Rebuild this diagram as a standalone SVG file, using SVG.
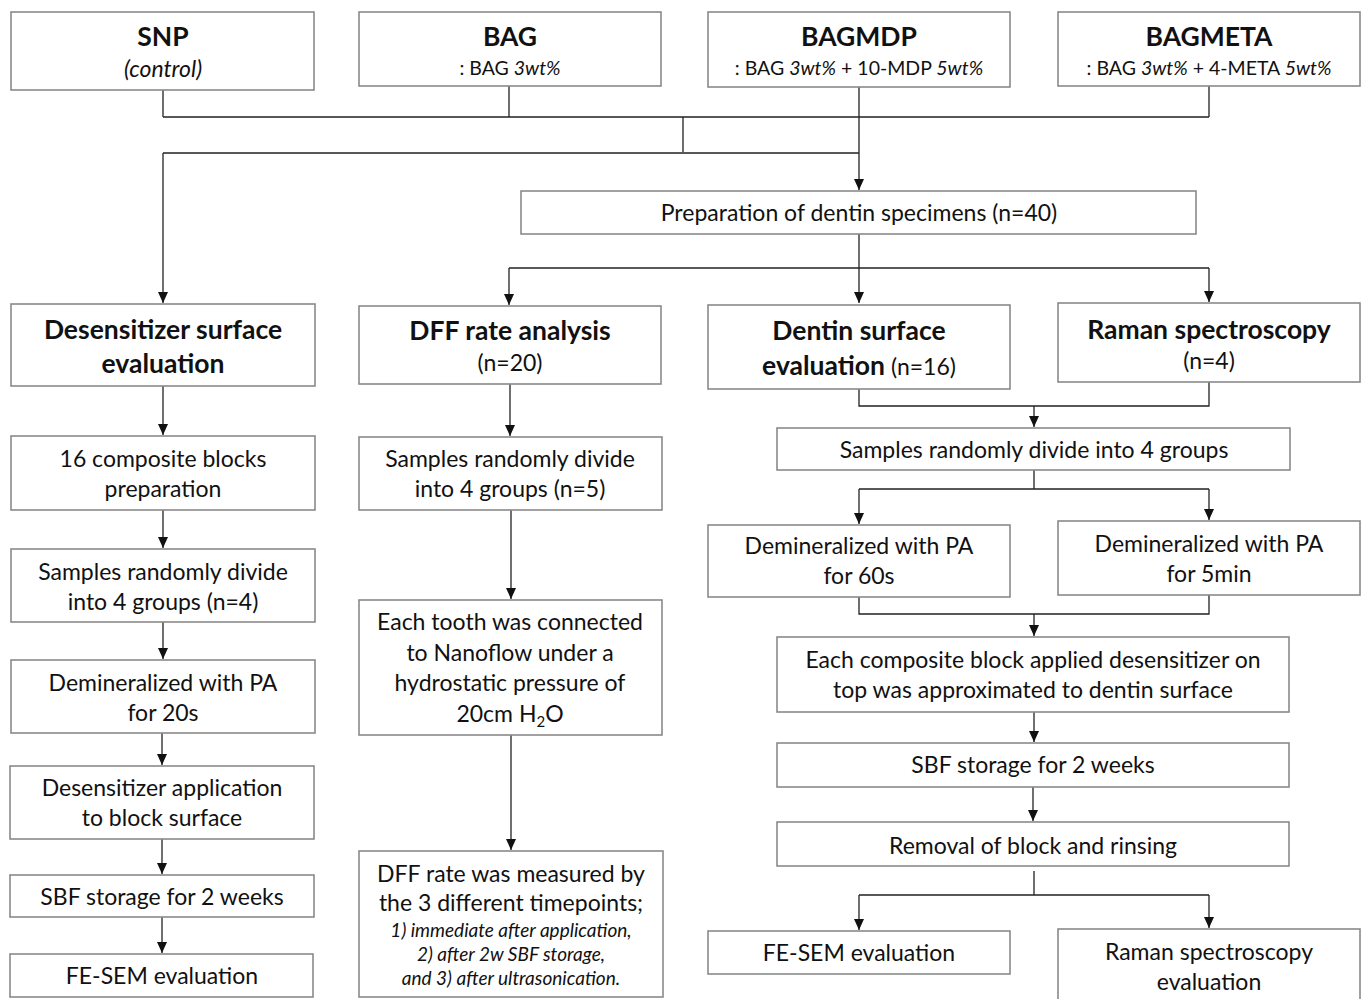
<svg xmlns="http://www.w3.org/2000/svg" width="1366" height="999" viewBox="0 0 1366 999">
<style>
.box{fill:#fff;stroke:#8a8a8a;stroke-width:1.6}
text{font-family:Lato,"Open Sans","Liberation Sans",sans-serif;fill:#111;text-anchor:middle}
.t{font-size:23px}
.h{font-size:26.5px;font-weight:bold}
.s{font-size:19.5px}
.i{font-size:19px;font-style:italic}
.c{fill:none;stroke:#222;stroke-width:1.3}
</style>
<defs>
<marker id="ah" markerWidth="10" markerHeight="11" refX="5" refY="11" orient="0" markerUnits="userSpaceOnUse" viewBox="0 0 10 11">
<path d="M0,0 L10,0 L5,11 z" fill="#111"/>
</marker>
</defs>
<rect width="1366" height="999" fill="#fff"/>

<g id="connectors" class="c">
<path d="M163,90 V117 M509,86 V117 M1209,86 V117 M163,117 H1209 M683,117 V152 M163,153 H859 M859,87 V153"/>
<path d="M859,153 V190" marker-end="url(#ah)"/>
<path d="M163,153 V303" marker-end="url(#ah)"/>
<path d="M859,234 V303" marker-end="url(#ah)"/>
<path d="M509,268 H1209"/>
<path d="M509,268 V305" marker-end="url(#ah)"/>
<path d="M1209,268 V302" marker-end="url(#ah)"/>
<path d="M163,386 V435" marker-end="url(#ah)"/>
<path d="M163,510 V548" marker-end="url(#ah)"/>
<path d="M163,622 V659" marker-end="url(#ah)"/>
<path d="M162,733 V765" marker-end="url(#ah)"/>
<path d="M162,839 V874" marker-end="url(#ah)"/>
<path d="M162,917 V953" marker-end="url(#ah)"/>
<path d="M510,384 V436" marker-end="url(#ah)"/>
<path d="M511,510 V599" marker-end="url(#ah)"/>
<path d="M511,735 V850" marker-end="url(#ah)"/>
<path d="M859,389 V406 H1209 V382"/>
<path d="M1034,406 V427" marker-end="url(#ah)"/>
<path d="M1034,470 V489 M859,489 H1209"/>
<path d="M859,489 V524" marker-end="url(#ah)"/>
<path d="M1209,489 V520" marker-end="url(#ah)"/>
<path d="M859,597 V614 H1209 V595"/>
<path d="M1034,614 V636" marker-end="url(#ah)"/>
<path d="M1034,712 V742" marker-end="url(#ah)"/>
<path d="M1033,787 V821" marker-end="url(#ah)"/>
<path d="M1034,871 V895 M859,895 H1209"/>
<path d="M859,895 V930" marker-end="url(#ah)"/>
<path d="M1209,895 V928" marker-end="url(#ah)"/>
</g>

<g id="snp"><rect class="box" x="11" y="12" width="303" height="78"/>
<text class="h" x="163" y="46">SNP</text><text class="t" x="163" y="77" font-style="italic">(control)</text></g>
<g id="bag"><rect class="box" x="359" y="12" width="302" height="74"/>
<text class="h" x="510" y="46">BAG</text><text class="s" x="510" y="75">: BAG <tspan font-style="italic">3wt%</tspan></text></g>
<g id="bagmdp"><rect class="box" x="708" y="12" width="302" height="75"/>
<text class="h" x="859" y="46">BAGMDP</text><text class="s" x="859" y="75">: BAG <tspan font-style="italic">3wt%</tspan> + 10-MDP <tspan font-style="italic">5wt%</tspan></text></g>
<g id="bagmeta"><rect class="box" x="1058" y="12" width="302" height="74"/>
<text class="h" x="1209" y="46">BAGMETA</text><text class="s" x="1209" y="75">: BAG <tspan font-style="italic">3wt%</tspan> + 4-META <tspan font-style="italic">5wt%</tspan></text></g>

<g id="prep"><rect class="box" x="521" y="191" width="675" height="43"/>
<text class="t" x="859" y="221">Preparation of dentin specimens (n=40)</text></g>

<g id="desens"><rect class="box" x="11" y="304" width="304" height="82"/>
<text class="h" x="163" y="339">Desensitizer surface</text><text class="h" x="163" y="373">evaluation</text></g>
<g id="dff"><rect class="box" x="359" y="306" width="302" height="78"/>
<text class="h" x="510" y="340">DFF rate analysis</text><text class="t" x="510" y="371">(n=20)</text></g>
<g id="dentin"><rect class="box" x="708" y="305" width="302" height="84"/>
<text class="h" x="859" y="340">Dentin surface</text><text x="859" y="375"><tspan class="h">evaluation</tspan><tspan class="t"> (n=16)</tspan></text></g>
<g id="raman"><rect class="box" x="1058" y="303" width="302" height="79"/>
<text class="h" x="1209" y="339">Raman spectroscopy</text><text class="t" x="1209" y="369">(n=4)</text></g>

<g id="l1"><rect class="box" x="11" y="436" width="304" height="74"/>
<text class="t" x="163" y="467">16 composite blocks</text><text class="t" x="163" y="497">preparation</text></g>
<g id="l2"><rect class="box" x="11" y="549" width="304" height="73"/>
<text class="t" x="163" y="580">Samples randomly divide</text><text class="t" x="163" y="610">into 4 groups (n=4)</text></g>
<g id="l3"><rect class="box" x="11" y="660" width="304" height="73"/>
<text class="t" x="163" y="691">Demineralized with PA</text><text class="t" x="163" y="721">for 20s</text></g>
<g id="l4"><rect class="box" x="10" y="766" width="304" height="73"/>
<text class="t" x="162" y="796">Desensitizer application</text><text class="t" x="162" y="826">to block surface</text></g>
<g id="l5"><rect class="box" x="10" y="875" width="304" height="42"/>
<text class="t" x="162" y="905">SBF storage for 2 weeks</text></g>
<g id="l6"><rect class="box" x="10" y="954" width="303" height="43"/>
<text class="t" x="162" y="984">FE-SEM evaluation</text></g>

<g id="m1"><rect class="box" x="359" y="437" width="303" height="73"/>
<text class="t" x="510" y="467">Samples randomly divide</text><text class="t" x="510" y="497">into 4 groups (n=5)</text></g>
<g id="m2"><rect class="box" x="359" y="600" width="303" height="135"/>
<text class="t" x="510" y="630">Each tooth was connected</text><text class="t" x="510" y="661">to Nanoflow under a</text><text class="t" x="510" y="691">hydrostatic pressure of</text><text class="t" x="510" y="722">20cm H<tspan font-size="15" dy="5">2</tspan><tspan dy="-5">O</tspan></text></g>
<g id="m3"><rect class="box" x="359" y="851" width="304" height="146"/>
<text class="t" x="511" y="882">DFF rate was measured by</text><text class="t" x="511" y="911">the 3 different timepoints;</text>
<text class="i" x="511" y="937">1) immediate after application,</text><text class="i" x="511" y="961">2) after 2w SBF storage,</text><text class="i" x="511" y="985">and 3) after ultrasonication.</text></g>

<g id="r1"><rect class="box" x="777" y="428" width="513" height="42"/>
<text class="t" x="1034" y="458">Samples randomly divide into 4 groups</text></g>
<g id="r2"><rect class="box" x="708" y="525" width="302" height="72"/>
<text class="t" x="859" y="554">Demineralized with PA</text><text class="t" x="859" y="584">for 60s</text></g>
<g id="r3"><rect class="box" x="1058" y="521" width="302" height="74"/>
<text class="t" x="1209" y="552">Demineralized with PA</text><text class="t" x="1209" y="582">for 5min</text></g>
<g id="r4"><rect class="box" x="777" y="637" width="512" height="75"/>
<text class="t" x="1033" y="668">Each composite block applied desensitizer on</text><text class="t" x="1033" y="698">top was approximated to dentin surface</text></g>
<g id="r5"><rect class="box" x="777" y="743" width="512" height="44"/>
<text class="t" x="1033" y="773">SBF storage for 2 weeks</text></g>
<g id="r6"><rect class="box" x="777" y="822" width="512" height="44"/>
<text class="t" x="1033" y="854">Removal of block and rinsing</text></g>
<g id="r7"><rect class="box" x="708" y="931" width="302" height="43"/>
<text class="t" x="859" y="961">FE-SEM evaluation</text></g>
<g id="r8"><rect class="box" x="1058" y="929" width="302" height="75"/>
<text class="t" x="1209" y="960">Raman spectroscopy</text><text class="t" x="1209" y="990">evaluation</text></g>
</svg>
